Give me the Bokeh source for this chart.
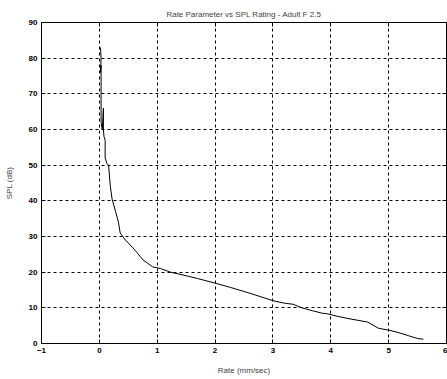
from bokeh.plotting import figure
from bokeh.models import LinearAxis, FixedTicker, Range1d
from bokeh.embed import file_html
from bokeh.resources import INLINE

# Data
rate = [0.02, 0.03, 0.02, 0.03, 0.03, 0.05, 0.07, 0.07, 0.08, 0.10, 0.10, 0.13, 0.16,
        0.19, 0.22, 0.28, 0.33, 0.36, 0.45, 0.57, 0.65, 0.75, 0.92, 1.06, 1.23, 1.50,
        1.70, 2.03, 2.27, 2.62, 3.00, 3.20, 3.35, 3.50, 3.68, 3.85, 3.95, 4.12, 4.30,
        4.64, 4.82, 5.04, 5.16, 5.34, 5.50, 5.60]
spl = [83, 80, 76, 78, 62, 60, 66, 60, 58, 57, 52, 50.5, 50,
       44, 40.5, 37, 34, 31, 29, 27, 25.5, 23.5, 21.5, 21, 20, 19,
       18.2, 16.8, 15.7, 14, 12, 11.3, 11, 10, 9.2, 8.5, 8.3, 7.6, 7,
       6, 4.3, 3.6, 3.1, 2.2, 1.4, 1.2]
x_ticks = [-1, 0, 1, 2, 3, 4, 5, 6]
y_ticks = [0, 10, 20, 30, 40, 50, 60, 70, 80, 90]

title_text = "Rate Parameter vs SPL Rating - Adult F 2.5"
x_label = "Rate (mm/sec)"
y_label = "SPL (dB)"

FONT = "Liberation Sans"

p = figure(width=447, height=379, output_backend="svg", toolbar_location=None,
           x_range=Range1d(-1, 6), y_range=Range1d(0, 90), title=title_text,
           x_axis_location=None, y_axis_location=None)
p.min_border_left = 41
p.min_border_right = 1
p.min_border_top = 22
p.min_border_bottom = 36
p.background_fill_color = "white"
p.border_fill_color = "white"
p.outline_line_color = "black"
p.outline_line_width = 1

p.title.align = "center"
p.title.text_font = FONT
p.title.text_font_size = "8px"
p.title.text_font_style = "normal"
p.title.offset = 0
p.title.standoff = 8


def make_axis(ticks, label=None, show_labels=True, label_standoff=4):
    ax = LinearAxis(ticker=FixedTicker(ticks=ticks))
    ax.major_tick_in = 4
    ax.major_tick_out = 0
    ax.minor_tick_in = 0
    ax.minor_tick_out = 0
    ax.axis_line_color = "black"
    ax.major_tick_line_color = "black"
    ax.major_label_text_font = FONT
    ax.major_label_text_font_size = "8px"
    ax.major_label_text_color = "black"
    ax.major_label_text_font_style = "bold"
    ax.major_label_standoff = 4
    if not show_labels:
        ax.major_label_overrides = {t: "" for t in ticks}
        ax.major_label_standoff = 0
    if label:
        ax.axis_label = label
        ax.axis_label_text_font = FONT
        ax.axis_label_text_font_size = "8px"
        ax.axis_label_text_font_style = "normal"
        ax.axis_label_standoff = label_standoff
    return ax

xb = make_axis(x_ticks, x_label, label_standoff=10)
yl = make_axis(y_ticks, y_label, label_standoff=12)
xt = make_axis(x_ticks, None, False)
yr = make_axis(y_ticks, None, False)
p.add_layout(xb, "below")
p.add_layout(yl, "left")
p.add_layout(xt, "above")
p.add_layout(yr, "right")

p.xgrid.ticker = FixedTicker(ticks=x_ticks)
p.ygrid.ticker = FixedTicker(ticks=y_ticks)
for g in (p.xgrid, p.ygrid):
    g.grid_line_color = "black"
    g.grid_line_dash = "3 3"
    g.grid_line_width = 1

p.line(rate, spl, line_color="black", line_width=1)

open("out.html", "w").write(file_html(p, INLINE))
